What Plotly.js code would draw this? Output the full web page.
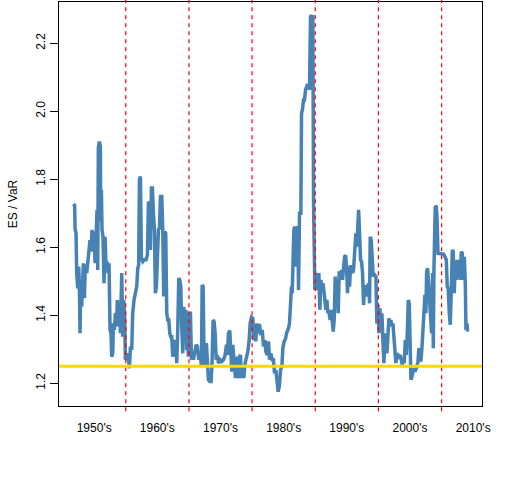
<!DOCTYPE html>
<html>
<head>
<meta charset="utf-8">
<script src="https://cdn.plot.ly/plotly-3.0.1.min.js"></script>
<style>html,body{margin:0;padding:0;background:#fff;}#chart{width:512px;height:480px;}</style>
</head>
<body>
<div id="chart"></div>
<script>
// ES / VaR ratio (decimal years)
var years1950s = [1951.70,1951.91,1951.97,1952.13,1952.23,1952.39,1952.55,1952.65,1952.76,1952.87,1953.02,1953.18,1953.29,1953.45,1953.60,1953.82,1953.97,1954.13,1954.34,1954.50,1954.66,1954.82,1954.98,1955.14,1955.30,1955.45,1955.56,1955.66,1955.82,1955.98,1956.03,1956.14,1956.24,1956.40,1956.56,1956.72,1956.88,1957.04,1957.20,1957.35,1957.51,1957.67,1957.78,1957.94,1958.04,1958.20,1958.36,1958.52,1958.67,1958.83,1958.99,1959.15,1959.36,1959.52,1959.68,1959.84,1959.94,1960.15,1960.36,1960.58,1960.73,1960.95,1961.10,1961.31,1961.53,1961.74,1961.90,1962.05,1962.16,1962.32,1962.48,1962.69,1962.90,1963.22,1963.43,1963.59,1963.74,1963.90,1964.06,1964.22,1964.38,1964.54,1964.69,1964.85,1965.01,1965.17,1965.33,1965.49,1965.70,1965.86,1966.01,1966.17,1966.33,1966.49,1966.65,1966.81,1966.97,1967.12,1967.28,1967.44,1967.60,1967.76,1967.92,1968.07,1968.23,1968.39,1968.55,1968.71,1968.87,1969.03,1969.18,1969.34,1969.50,1969.66];
var ratio1950s = [1.727,1.723,1.656,1.641,1.524,1.479,1.543,1.490,1.347,1.499,1.425,1.485,1.553,1.450,1.550,1.524,1.553,1.577,1.621,1.587,1.651,1.611,1.646,1.553,1.631,1.710,1.533,1.891,1.911,1.897,1.675,1.769,1.651,1.631,1.494,1.631,1.543,1.558,1.524,1.553,1.357,1.347,1.278,1.288,1.376,1.357,1.406,1.367,1.445,1.367,1.435,1.347,1.524,1.337,1.445,1.386,1.269,1.278,1.288,1.244,1.303,1.303,1.406,1.445,1.465,1.485,1.538,1.548,1.798,1.808,1.567,1.558,1.563,1.563,1.577,1.734,1.729,1.592,1.774,1.774,1.700,1.651,1.465,1.485,1.567,1.651,1.656,1.749,1.749,1.651,1.455,1.646,1.641,1.406,1.386,1.386,1.347,1.337,1.337,1.278,1.308,1.327,1.313,1.259,1.357,1.509,1.504,1.485,1.362,1.288,1.425,1.347,1.416,1.298];

var years1970s = [1969.77,1969.92,1970.08,1970.24,1970.40,1970.56,1970.72,1970.93,1971.14,1971.35,1971.56,1971.77,1971.98,1972.09,1972.25,1972.41,1972.56,1972.78,1972.93,1973.09,1973.30,1973.51,1973.67,1973.83,1973.99,1974.15,1974.31,1974.47,1974.68,1974.94,1975.20,1975.47,1975.73,1975.94,1976.10,1976.26,1976.47,1976.63,1976.79,1976.95,1977.16,1977.37,1977.53,1977.69,1977.85,1978.00,1978.16,1978.32,1978.53,1978.69,1978.90,1979.11,1979.32,1979.54,1979.69,1979.90,1980.12,1980.27,1980.43,1980.59,1980.75,1980.96,1981.17,1981.38,1981.60,1981.81,1982.02,1982.18,1982.39,1982.60,1982.76,1982.97,1983.18,1983.39,1983.55,1983.76,1983.92,1984.13,1984.34,1984.50,1984.71,1984.87,1985.08,1985.29,1985.45,1985.61,1985.77,1985.92,1986.08,1986.24,1986.35,1986.51,1986.61,1986.77,1986.93,1987.09,1987.25,1987.35,1987.51,1987.72];
var ratio1970s = [1.327,1.278,1.406,1.406,1.269,1.288,1.269,1.288,1.313,1.308,1.269,1.293,1.249,1.489,1.484,1.249,1.313,1.313,1.269,1.210,1.205,1.205,1.269,1.386,1.381,1.347,1.269,1.283,1.259,1.269,1.264,1.269,1.283,1.313,1.283,1.347,1.355,1.288,1.234,1.313,1.269,1.215,1.249,1.278,1.215,1.278,1.283,1.215,1.249,1.215,1.259,1.274,1.293,1.327,1.376,1.394,1.391,1.327,1.371,1.323,1.376,1.347,1.374,1.342,1.357,1.308,1.327,1.293,1.283,1.323,1.269,1.288,1.269,1.269,1.229,1.239,1.195,1.175,1.195,1.239,1.249,1.303,1.323,1.330,1.347,1.352,1.362,1.376,1.425,1.484,1.465,1.602,1.651,1.661,1.543,1.656,1.661,1.474,1.700,1.700];

var years1990s = [1987.83,1987.98,1988.14,1988.30,1988.46,1988.67,1988.88,1989.09,1989.25,1989.41,1989.52,1989.62,1989.73,1989.83,1989.94,1990.10,1990.26,1990.41,1990.57,1990.73,1990.89,1991.05,1991.21,1991.36,1991.52,1991.68,1991.84,1992.00,1992.16,1992.37,1992.53,1992.68,1992.84,1993.00,1993.16,1993.32,1993.48,1993.64,1993.79,1993.95,1994.16,1994.32,1994.48,1994.64,1994.80,1994.96,1995.11,1995.27,1995.43,1995.59,1995.75,1995.91,1996.06,1996.28,1996.43,1996.59,1996.75];
var ratio1990s = [1.994,2.006,2.033,2.033,2.063,2.074,2.070,2.065,2.278,2.283,2.063,2.283,1.729,1.602,1.474,1.524,1.474,1.504,1.524,1.416,1.504,1.474,1.494,1.474,1.445,1.416,1.445,1.406,1.410,1.386,1.416,1.371,1.352,1.386,1.514,1.445,1.504,1.406,1.529,1.504,1.533,1.504,1.543,1.572,1.577,1.543,1.465,1.543,1.484,1.543,1.543,1.524,1.533,1.602,1.641,1.602,1.710];

var years2000s = [1996.86,1997.02,1997.17,1997.33,1997.49,1997.65,1997.81,1997.97,1998.12,1998.28,1998.44,1998.60,1998.70,1998.86,1999.02,1999.18,1999.39,1999.60,1999.76,1999.92,2000.08,2000.24,2000.40,2000.55,2000.71,2000.87,2001.03,2001.19,2001.35,2001.50,2001.66,2001.82,2001.98,2002.14,2002.30,2002.45,2002.61,2002.77,2002.93,2003.09,2003.25,2003.46,2003.62,2003.78,2003.93,2004.09,2004.25,2004.41,2004.57,2004.73,2004.88,2004.99,2005.15,2005.31,2005.46,2005.62,2005.78,2005.94,2006.10,2006.26,2006.42,2006.57,2006.73,2006.89,2007.05,2007.21,2007.37,2007.52,2007.63,2007.79,2007.95,2008.11,2008.26,2008.42,2008.58,2008.69,2008.79,2008.90,2009.00,2009.16,2009.27,2009.43,2009.58,2009.80,2010.06,2010.32,2010.59,2010.75,2010.90,2011.06,2011.22,2011.38,2011.54,2011.70,2011.85,2012.01,2012.17,2012.33,2012.49,2012.65,2012.81,2012.96,2013.12,2013.28,2013.44,2013.60,2013.76,2013.86,2014.02,2014.13];
var ratio2000s = [1.710,1.641,1.563,1.558,1.524,1.430,1.484,1.455,1.489,1.465,1.494,1.435,1.631,1.621,1.543,1.514,1.519,1.514,1.376,1.430,1.347,1.420,1.367,1.406,1.327,1.259,1.327,1.347,1.288,1.352,1.391,1.376,1.386,1.367,1.376,1.337,1.288,1.259,1.288,1.283,1.278,1.283,1.269,1.254,1.274,1.259,1.327,1.283,1.347,1.445,1.435,1.288,1.210,1.220,1.234,1.244,1.234,1.239,1.249,1.264,1.303,1.269,1.264,1.303,1.376,1.401,1.460,1.406,1.528,1.538,1.484,1.450,1.411,1.347,1.524,1.303,1.533,1.690,1.721,1.719,1.690,1.582,1.582,1.582,1.582,1.580,1.570,1.563,1.484,1.479,1.406,1.372,1.474,1.592,1.587,1.465,1.558,1.504,1.563,1.509,1.563,1.504,1.587,1.582,1.504,1.572,1.489,1.357,1.376,1.352];

var decadeStarts = [1960, 1970, 1980, 1990, 2000, 2010];
var decadeMids = [1955, 1965, 1975, 1985, 1995, 2005, 2015];
var decadeLabels = ["1950's", "1960's", "1970's", "1980's", "1990's", "2000's", "2010's"];
var yTicks = [1.2, 1.4, 1.6, 1.8, 2.0, 2.2];
var normalRatio = 1.25;

var years = [].concat(years1950s, years1970s, years1990s, years2000s);
var ratio = [].concat(ratio1950s, ratio1970s, ratio1990s, ratio2000s);

var shapes = decadeStarts.map(function (yr) {
  return {type: 'line', xref: 'x', yref: 'paper', x0: yr, x1: yr, y0: -0.013, y1: 1.006,
          line: {color: '#FF0000', width: 1.2, dash: '4px,4px'}, layer: 'above'};
});
shapes.push({type: 'line', xref: 'paper', yref: 'y', x0: 0, x1: 1, y0: normalRatio, y1: normalRatio,
             line: {color: '#FFD700', width: 3}, layer: 'above'});

var trace = {
  x: years, y: ratio, type: 'scatter', mode: 'lines',
  line: {color: '#4682B4', width: 3.5}, hoverinfo: 'skip'
};

var layout = {
  width: 512, height: 480,
  margin: {l: 59, r: 30, t: 2, b: 74, pad: 0},
  paper_bgcolor: '#ffffff', plot_bgcolor: '#ffffff',
  font: {family: 'Liberation Sans, Arial, sans-serif', size: 12, color: '#000000'},
  showlegend: false,
  xaxis: {
    range: [1949.43, 2016.40], showgrid: false, zeroline: false,
    showline: true, mirror: true, linecolor: '#000000', linewidth: 1,
    ticks: '', tickmode: 'array', tickvals: decadeMids, ticktext: decadeLabels,
    ticklabelstandoff: 11, tickfont: {size: 12, color: '#000000'}
  },
  yaxis: {
    range: [1.133, 2.3215], showgrid: false, zeroline: false,
    showline: true, mirror: true, linecolor: '#000000', linewidth: 1,
    ticks: 'outside', ticklen: 8, tickcolor: '#000000', tickwidth: 1,
    tickmode: 'array', tickvals: yTicks, ticktext: yTicks.map(function (v) { return v.toFixed(1); }),
    tickangle: -90, tickfont: {size: 12, color: '#000000'},
    title: {text: 'ES / VaR', font: {size: 12, color: '#000000'}, standoff: 14}
  },
  shapes: shapes
};

Plotly.newPlot('chart', [trace], layout, {displayModeBar: false, staticPlot: true});
</script>
</body>
</html>
